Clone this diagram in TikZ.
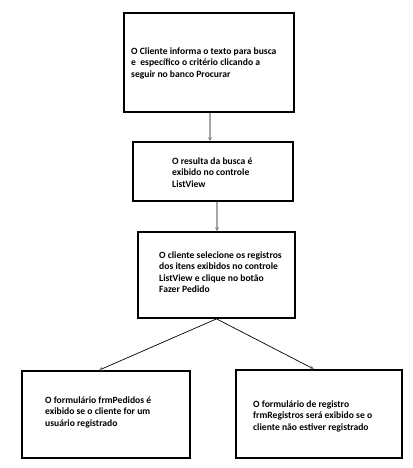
\documentclass[tikz,border=0pt]{standalone}
\usepackage{fontspec}
\setmainfont{Carlito}
\usetikzlibrary{arrows.meta}
\begin{document}
\begin{tikzpicture}[x=1pt,y=-1pt,
  boxstyle/.style={draw=black,line width=1.7pt,fill=white,inner sep=0pt},
  txt/.style={anchor=west,align=left,inner sep=0pt,font=\fontsize{9.6}{11.5}\selectfont\bfseries},
  vline/.style={draw=gray!70,line width=1.4pt,-{Stealth[length=4pt,width=4pt,gray]}},
  dline/.style={draw=black,line width=0.7pt,-{Stealth[length=4pt,width=4pt,gray]}}]
\path[use as bounding box,fill=white] (0,0) rectangle (412,468);
\node[boxstyle,minimum width=170pt,minimum height=99pt] (b1) at (209,62.5) {};
\node[boxstyle,minimum width=160pt,minimum height=59pt] (b2) at (213,171.5) {};
\node[boxstyle,minimum width=157pt,minimum height=86pt] (b3) at (216.5,275) {};
\node[boxstyle,minimum width=168pt,minimum height=87pt] (b4) at (106,414.5) {};
\node[boxstyle,minimum width=166pt,minimum height=88pt] (b5) at (319,414) {};
\node[txt] (t1) at (131,63) {O Cliente informa o texto para busca\\e \ específico o critério clicando a\\seguir no banco Procurar};
\node[txt] (t2) at (172,172.5) {O resulta da busca é\\exibido no controle\\ListView};
\node[txt] (t3) at (159,272) {O cliente selecione os registros\\dos itens exibidos no controle\\ListView e clique no botão\\Fazer Pedido};
\node[txt] (t4) at (45,412) {O formulário frmPedidos é\\exibido se o cliente for um\\usuário registrado};
\node[txt] (t5) at (253,416) {O formulário de registro\\frmRegistros será exibido se o\\cliente não estiver registrado};
\draw[vline] ([xshift=1pt]b1.south) -- ([xshift=1pt]b1.south |- b2.north);
\draw[vline] ([xshift=4pt]b2.south) -- ([xshift=4pt]b2.south |- b3.north);
\draw[dline] (b3.south) -- ([xshift=-7pt]b4.north);
\draw[dline] (b3.south) -- ([xshift=-5pt]b5.north);
\end{tikzpicture}
\end{document}
